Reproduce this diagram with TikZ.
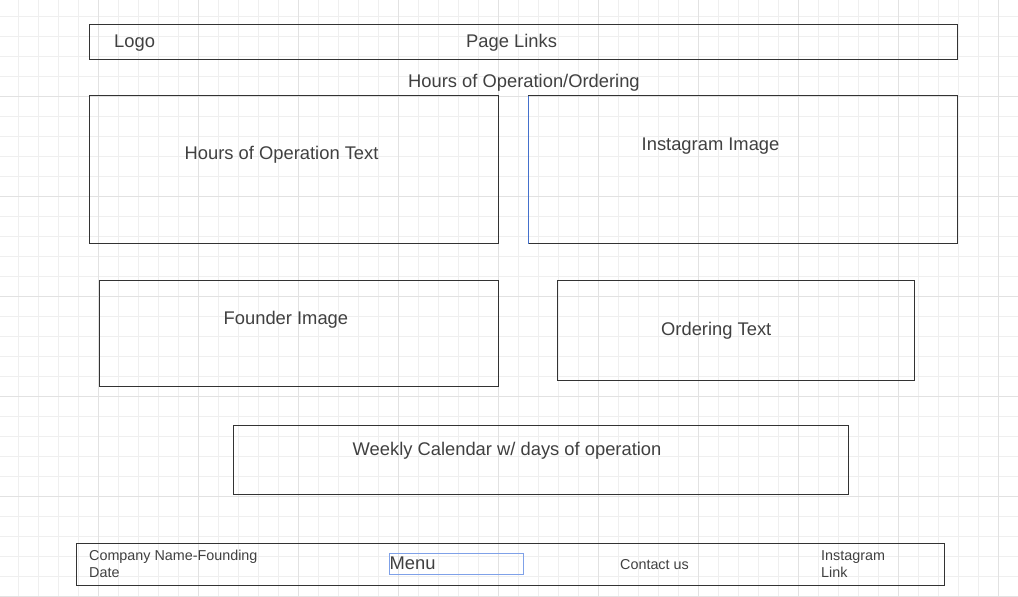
\documentclass[tikz,border=0pt]{standalone}
\usepackage{fontspec}
\setmainfont{Liberation Sans}
\definecolor{gridminor}{HTML}{EFEFEF}
\definecolor{gridmajor}{HTML}{E2E2E2}
\definecolor{edge}{HTML}{333333}
\definecolor{ink}{HTML}{404040}
\definecolor{selblue}{HTML}{4470CC}
\definecolor{lightblue}{HTML}{7FA1E8}
\tikzset{
  minorline/.style={draw=gridminor, line width=1pt},
  majorline/.style={draw=gridmajor, line width=1pt},
  box/.style={draw=edge, line width=1pt, rectangle, inner sep=0pt, outer sep=0pt, anchor=north west},
  big/.style={font=\fontsize{18.35}{21}\selectfont, text=ink, inner sep=0pt, anchor=base west},
  small/.style={font=\fontsize{14.35}{17}\selectfont, text=ink, inner sep=0pt},
}
\begin{document}
\begin{tikzpicture}[x=1pt,y=-1pt]
\useasboundingbox (0,0) rectangle (1018,597);
\fill[white] (0,0) rectangle (1018,597);
% background grid
\foreach \x in {-2,18,...,1018} \draw[minorline] (\x+0.5,0) -- (\x+0.5,597);
\foreach \y in {-4,16,...,600} \draw[minorline] (0,\y+0.5) -- (1018,\y+0.5);
\foreach \x in {98,198,...,998} \draw[majorline] (\x+0.5,0) -- (\x+0.5,597);
\foreach \y in {96,196,...,596} \draw[majorline] (0,\y+0.5) -- (1018,\y+0.5);

% header bar
\node[box, minimum width=868pt, minimum height=35pt] (header) at (89.5,24.5) {};
\node[big] (logo) at (114,47) {Logo};
\node[big] (links) at (466,47) {Page Links};

% section title
\node[big] (title) at (408,87) {Hours of Operation/Ordering};

% hours of operation
\node[box, minimum width=409pt, minimum height=148pt] (hours) at (89.5,95.5) {};
\node[big] (hourstext) at (184.5,159.5) {Hours of Operation Text};

% instagram image
\node[box, minimum width=429pt, minimum height=148pt] (insta) at (528.5,95.5) {};
\draw[selblue, line width=1pt] (insta.north west) -- (insta.south west);
\node[big] (instatext) at (641.5,150) {Instagram Image};

% founder image
\node[box, minimum width=399pt, minimum height=106pt] (founder) at (99.5,280.5) {};
\node[big] (foundertext) at (223.5,324) {Founder Image};

% ordering text
\node[box, minimum width=357pt, minimum height=100pt] (ordering) at (557.5,280.5) {};
\node[big] (orderingtext) at (661,335.5) {Ordering Text};

% weekly calendar
\node[box, minimum width=615pt, minimum height=69pt] (calendar) at (233.5,425.5) {};
\node[big] (calendartext) at (352.5,455.5) {Weekly Calendar w/ days of operation};

% footer bar
\node[box, minimum width=868pt, minimum height=42pt] (footer) at (76.5,543.5) {};
\node[small, anchor=north west, align=left] (company) at (89,549.5) {Company Name-Founding\\Date};
\node[draw=lightblue, line width=1pt, rectangle, inner sep=0pt, outer sep=0pt, anchor=north west,
      minimum width=134pt, minimum height=21pt] (menubox) at (389.5,553.5) {};
\node[big] (menu) at (389.5,569.5) {Menu};
\node[small, anchor=base west] (contact) at (620,569) {Contact us};
\node[small, anchor=north west, align=left] (instalink) at (821,550.5) {Instagram\\Link};
\end{tikzpicture}
\end{document}
